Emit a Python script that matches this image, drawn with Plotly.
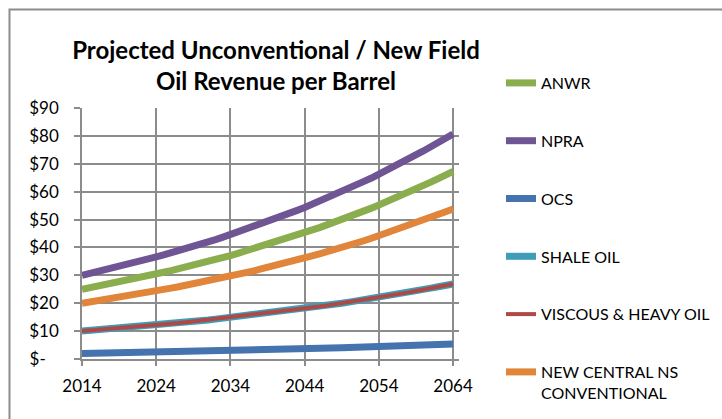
import plotly.graph_objects as go

years = list(range(2014, 2065))

anwr = [25.0, 25.5, 26.0, 26.5, 27.1, 27.6, 28.2, 28.7, 29.3, 29.9, 30.5, 31.1, 31.7, 32.3, 33.0, 33.6,
        34.3, 35.0, 35.7, 36.4, 37.1, 37.9, 38.7, 39.4, 40.2, 41.0, 41.8, 42.7, 43.5, 44.4, 45.3, 46.2,
        47.1, 48.1, 49.0, 50.0, 51.0, 52.0, 53.1, 54.1, 55.2, 56.3, 57.4, 58.6, 59.8, 60.9, 62.2, 63.4,
        64.7, 66.0, 67.3]
npra = [30.0, 30.6, 31.2, 31.8, 32.5, 33.1, 33.8, 34.5, 35.2, 35.9, 36.6, 37.3, 38.0, 38.8, 39.6, 40.4,
        41.2, 42.0, 42.8, 43.7, 44.6, 45.5, 46.4, 47.3, 48.3, 49.2, 50.2, 51.2, 52.2, 53.3, 54.3, 55.4,
        56.5, 57.7, 58.8, 60.0, 61.2, 62.4, 63.7, 64.9, 66.2, 67.6, 68.9, 70.3, 71.7, 73.1, 74.6, 76.1,
        77.6, 79.2, 80.7]
ocs = [2.00, 2.04, 2.08, 2.12, 2.16, 2.21, 2.25, 2.30, 2.34, 2.39, 2.44, 2.49, 2.54, 2.59, 2.64, 2.69,
       2.75, 2.80, 2.86, 2.91, 2.97, 3.03, 3.09, 3.15, 3.22, 3.28, 3.35, 3.41, 3.48, 3.55, 3.62, 3.70,
       3.77, 3.84, 3.92, 4.00, 4.08, 4.16, 4.24, 4.33, 4.42, 4.50, 4.59, 4.69, 4.78, 4.88, 4.97, 5.07,
       5.17, 5.28, 5.38]
shale = [10.0, 10.2, 10.4, 10.6, 10.8, 11.0, 11.3, 11.5, 11.7, 12.0, 12.2, 12.4, 12.7, 12.9, 13.2, 13.5,
         13.7, 14.0, 14.3, 14.6, 14.9, 15.2, 15.5, 15.8, 16.1, 16.4, 16.7, 17.1, 17.4, 17.8, 18.1, 18.5,
         18.8, 19.2, 19.6, 20.0, 20.4, 20.8, 21.2, 21.6, 22.1, 22.5, 23.0, 23.4, 23.9, 24.4, 24.9, 25.4,
         25.9, 26.4, 26.9]
viscous = [10.0, 10.2, 10.4, 10.6, 10.8, 11.0, 11.3, 11.5, 11.7, 12.0, 12.2, 12.4, 12.7, 12.9, 13.2, 13.5,
           13.7, 14.0, 14.3, 14.6, 14.9, 15.2, 15.5, 15.8, 16.1, 16.4, 16.7, 17.1, 17.4, 17.8, 18.1, 18.5,
           18.8, 19.2, 19.6, 20.0, 20.4, 20.8, 21.2, 21.6, 22.1, 22.5, 23.0, 23.4, 23.9, 24.4, 24.9, 25.4,
           25.9, 26.4, 26.9]
new_central = [20.0, 20.4, 20.8, 21.2, 21.6, 22.1, 22.5, 23.0, 23.4, 23.9, 24.4, 24.9, 25.4, 25.9, 26.4, 26.9,
               27.5, 28.0, 28.6, 29.1, 29.7, 30.3, 30.9, 31.5, 32.2, 32.8, 33.5, 34.1, 34.8, 35.5, 36.2, 37.0,
               37.7, 38.4, 39.2, 40.0, 40.8, 41.6, 42.4, 43.3, 44.2, 45.0, 45.9, 46.9, 47.8, 48.8, 49.7, 50.7,
               51.7, 52.8, 53.8]

series_names = ["ANWR", "NPRA", "OCS", "SHALE OIL", "VISCOUS & HEAVY OIL", "NEW CENTRAL NS<br>CONVENTIONAL"]
series_values = [anwr, npra, ocs, shale, viscous, new_central]
series_colors = ["#8AAD4E", "#6F5593", "#4573AD", "#3F9DB8", "#B04845", "#E0853A"]
series_widths = [7, 7, 7, 7, 4, 7]

y_tickvals = [0, 10, 20, 30, 40, 50, 60, 70, 80, 90]
y_ticktext = ["$-\u00a0\u00a0\u00a0", "$10", "$20", "$30", "$40", "$50", "$60", "$70", "$80", "$90"]
x_tickvals = [2014, 2024, 2034, 2044, 2054, 2064]

FONT = "Lato"
GRID = "#8C8C8C"

fig = go.Figure()
for i, (name, vals, col, w) in enumerate(zip(series_names, series_values, series_colors, series_widths)):
    fig.add_trace(go.Scatter(
        x=years, y=vals, name=name, mode="lines",
        line=dict(color=col, width=w),
        legendgroup=f"g{i}",
    ))

fig.update_layout(
    width=722, height=419,
    margin=dict(l=82, r=263, t=108, b=60, autoexpand=False),
    paper_bgcolor="white", plot_bgcolor="white",
    font=dict(family=FONT, color="#000000", size=16),
    title=dict(
        text="<b>Projected Unconventional / New Field<br>Oil Revenue per Barrel</b>",
        x=276 / 722, xanchor="center", xref="container",
        y=1 - 59 / 419, yanchor="middle", yref="container",
        font=dict(family=FONT, size=24, color="#000000"),
    ),
    showlegend=True,
    legend=dict(
        x=(501 - 82) / 377, xanchor="left",
        y=(359 - 66) / 251, yanchor="top",
        font=dict(family=FONT, size=16, color="#000000"),
        tracegroupgap=34, valign="top",
        bgcolor="rgba(0,0,0,0)",
        maxheight=400,
    ),
    xaxis=dict(
        range=[2014, 2064.8],
        tickvals=x_tickvals,
        ticktext=[str(v) for v in x_tickvals],
        showgrid=True, gridcolor=GRID, gridwidth=1.5,
        ticks="outside", ticklen=5, tickcolor=GRID, tickwidth=1.5,
        showline=True, linecolor=GRID, linewidth=1.5,
        zeroline=False, automargin=False,
        tickfont=dict(family=FONT, size=17, color="#000000"),
        ticklabelstandoff=6,
    ),
    yaxis=dict(
        range=[0, 90],
        tickvals=y_tickvals, ticktext=y_ticktext,
        showgrid=True, gridcolor=GRID, gridwidth=1.5,
        ticks="outside", ticklen=6, tickcolor=GRID, tickwidth=1.5,
        showline=True, linecolor=GRID, linewidth=1.5,
        zeroline=False, automargin=False,
        tickfont=dict(family=FONT, size=17, color="#000000"),
        ticklabelstandoff=12,
    ),
    shapes=[dict(
        type="rect", xref="paper", yref="paper",
        x0=(9.5 - 82) / 377, x1=2.0,
        y0=-1.0, y1=(359 - 9.5) / 251,
        line=dict(color="#8C8C8C", width=2), fillcolor="rgba(0,0,0,0)", layer="below",
    )],
)

fig.write_html(
    "out.html",
    config={"displayModeBar": False},
    post_script="document.body.style.margin='0';document.body.style.padding='0';",
)
